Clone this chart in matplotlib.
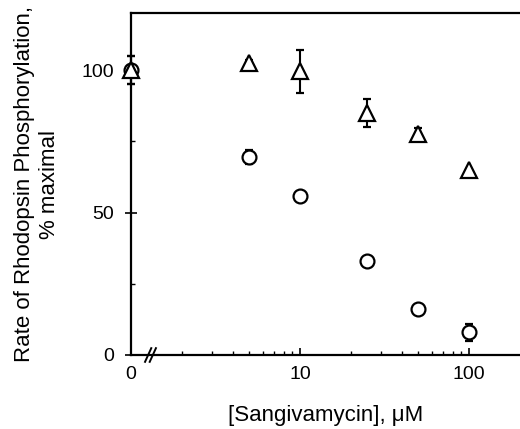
import matplotlib.pyplot as plt
import matplotlib.ticker as mticker
import numpy as np

plt.rcParams['font.family'] = ['Liberation Sans', 'DejaVu Sans']

# concentration in uM; 0 is drawn at the left end of the log axis (x=1)
conc = [0, 5, 10, 25, 50, 100]
circle_y = [100, 69.5, 55.7, 33, 16, 8]
circle_err = [5, 2.5, 0, 0, 0, 3]
tri_y = [100, 102.5, 99.5, 85, 77.5, 65]
tri_err = [5, 1, 7.5, 5, 2, 0]
xtick_vals = [0, 10, 100]
xtick_labels = ["0", "10", "100"]

def xpos(c):
    return [1.0 if v == 0 else v for v in c]

fig = plt.figure(figsize=(5.2, 4.29), dpi=100)
ax = fig.add_axes([0.252, 0.1725, 0.748, 0.797])

ax.errorbar(xpos(conc), circle_y, yerr=circle_err, fmt='o', mfc='white', mec='black',
            ms=10, mew=1.6, ecolor='black', elinewidth=1.5, capsize=3, capthick=1.5,
            clip_on=False, zorder=3)
ax.errorbar(xpos(conc), tri_y, yerr=tri_err, fmt='^', mfc='white', mec='black',
            ms=11, mew=1.6, ecolor='black', elinewidth=1.5, capsize=3, capthick=1.5,
            clip_on=False, zorder=4)

ax.set_xscale('log')
ax.set_xlim(1, 200)
ax.set_ylim(0, 120)

ax.set_xticks(xpos(xtick_vals))
ax.set_xticklabels(xtick_labels)
ax.xaxis.set_minor_locator(mticker.FixedLocator([2, 3, 4, 5, 6, 7, 8, 9,
                                                 20, 30, 40, 50, 60, 70, 80, 90]))
ax.xaxis.set_minor_formatter(mticker.NullFormatter())
ax.set_yticks([0, 50, 100])
ax.set_yticks([25, 75], minor=True)

ax.tick_params(axis='both', which='major', direction='in', length=5, width=1.2,
               labelsize=14, pad=8)
ax.tick_params(axis='both', which='minor', direction='in', length=3, width=1.0)
ax.tick_params(axis='y', which='major', direction='inout', length=8)

for s in ['left', 'bottom', 'top']:
    ax.spines[s].set_linewidth(1.6)
ax.spines['right'].set_visible(False)

# axis break marks
for dx in (-0.006, 0.006):
    ax.plot([0.05 + dx - 0.008, 0.05 + dx + 0.008], [-0.02, 0.02], color='black',
            lw=1.4, transform=ax.transAxes, clip_on=False)

ax.set_ylabel("Rate of Rhodopsin Phosphorylation,\n% maximal", fontsize=16,
              linespacing=1.25)
ax.yaxis.set_label_coords(-0.182, 0.5)
ax.set_xlabel("[Sangivamycin], \u03bcM", fontsize=16)
ax.xaxis.set_label_coords(0.5, -0.145)

fig.savefig("out.png", dpi=100)
